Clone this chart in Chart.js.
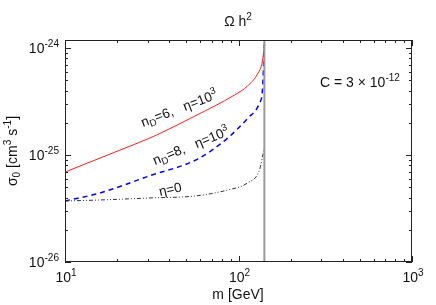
<!DOCTYPE html>
<html>
<head>
<meta charset="utf-8">
<script src="https://cdn.jsdelivr.net/npm/chart.js@4"></script>
<style>
  html, body { margin: 0; padding: 0; background: #fff; }
  #wrap { width: 436px; height: 305px; }
</style>
</head>
<body>
<div id="wrap"><canvas id="chart" width="436" height="305"></canvas></div>
<script>
// values
const redM = [10, 15.9, 27, 33.8, 55.9, 72.8, 94.8, 112.7, 128.5, 137.4, 141];
const redS = [6.93e-26, 9.37e-26, 1.32e-25, 1.54e-25, 2.31e-25, 2.87e-25, 3.64e-25, 4.42e-25, 5.71e-25, 7.57e-25, 1.07e-24];
const blueM = [10, 15.9, 30.8, 58.1, 86.5, 112.7, 132.1, 137.4, 141];
const blueS = [3.72e-26, 4.42e-26, 6.4e-26, 9.17e-26, 1.44e-25, 2.2e-25, 3.06e-25, 4.05e-25, 1.1e-24];
const blackM = [10, 15.9, 30.8, 55.9, 86.5, 112.7, 132.1, 137.4, 141];
const blackS = [3.72e-26, 3.8e-26, 3.97e-26, 4.14e-26, 4.71e-26, 5.48e-26, 7.24e-26, 9.57e-26, 1.19e-25];
const vlineM = [141, 141];
const vlineS = [1e-26, 1.19e-24];

const xMajor = [10, 100, 1000];
const xMajorExp = ['1', '2', '3'];
const yMajor = [1e-26, 1e-25, 1e-24];
const yMajorExp = ['-26', '-25', '-24'];

const FONT = "'Liberation Sans', Arial, sans-serif";
const FS = 14;

function pts(xs, ys) {
    return xs.map((x, i) => ({ x: x, y: ys[i] }));
}

// draw text made of pieces, some raised or lowered
function rich(ctx, parts, x, y, size) {
    let cx = x;
    ctx.textBaseline = 'alphabetic';
    ctx.textAlign = 'left';
    parts.forEach(p => {
        let s = size, dy = 0;
        if (p.sup) { s = size * 0.72; dy = -size * 0.42; }
        if (p.sub) { s = size * 0.72; dy = size * 0.22; }
        ctx.font = s + 'px ' + FONT;
        ctx.fillText(p.t, cx, y + dy);
        cx += ctx.measureText(p.t).width;
    });
    return cx - x;
}
function richWidth(ctx, parts, size) {
    let w = 0;
    parts.forEach(p => {
        let s = (p.sup || p.sub) ? size * 0.72 : size;
        ctx.font = s + 'px ' + FONT;
        w += ctx.measureText(p.t).width;
    });
    return w;
}

const decor = {
    id: 'decor',
    afterDatasetsDraw(chart) {
        const ctx = chart.ctx;
        const a = chart.chartArea;
        const xs = chart.scales.x, ys = chart.scales.y;
        ctx.save();
        ctx.fillStyle = '#111';
        ctx.strokeStyle = '#222';
        ctx.lineWidth = 1;

        // ticks on all four sides, pointing inward
        ctx.beginPath();
        for (let d = 0; d < xMajor.length; d++) {
            for (let k = 1; k <= 9; k++) {
                const v = xMajor[d] * k;
                if (v > 1000) break;
                const px = Math.round(xs.getPixelForValue(v)) + 0.5;
                const len = k === 1 ? 6 : 3;
                ctx.moveTo(px, a.bottom); ctx.lineTo(px, a.bottom - len);
                ctx.moveTo(px, a.top); ctx.lineTo(px, a.top + len);
            }
        }
        for (let d = 0; d < yMajor.length; d++) {
            for (let k = 1; k <= 9; k++) {
                const v = yMajor[d] * k;
                if (v > ys.max) break;
                const py = Math.round(ys.getPixelForValue(v)) + 0.5;
                const len = k === 1 ? 6 : 3;
                ctx.moveTo(a.left, py); ctx.lineTo(a.left + len, py);
                ctx.moveTo(a.right, py); ctx.lineTo(a.right - len, py);
            }
        }
        ctx.stroke();
        ctx.strokeRect(a.left + 0.5, a.top + 0.5, a.right - a.left - 1, a.bottom - a.top - 1);

        // tick labels
        xMajor.forEach((v, i) => {
            const parts = [{ t: '10' }, { t: xMajorExp[i], sup: true }];
            const w = richWidth(ctx, parts, FS);
            const px = xs.getPixelForValue(v);
            rich(ctx, parts, px - w / 2 + 1, a.bottom + 20, FS);
        });
        yMajor.forEach((v, i) => {
            const parts = [{ t: '10' }, { t: yMajorExp[i], sup: true }];
            const w = richWidth(ctx, parts, FS);
            const py = ys.getPixelForValue(v);
            rich(ctx, parts, a.left - 6 - w, py + 5, FS);
        });

        // title and axis labels
        const tt = [{ t: 'Ω h' }, { t: '2', sup: true }];
        rich(ctx, tt, 238 - richWidth(ctx, tt, FS) / 2, 26, FS);
        ctx.font = FS + 'px ' + FONT;
        ctx.textAlign = 'center';
        ctx.fillText('m [GeV]', 238, 299);
        ctx.save();
        ctx.translate(17, 151);
        ctx.rotate(-Math.PI / 2);
        const yl = [{ t: 'σ' }, { t: '0', sub: true }, { t: ' [cm' }, { t: '3', sup: true }, { t: ' s' }, { t: '-1', sup: true }, { t: ']' }];
        rich(ctx, yl, -richWidth(ctx, yl, FS) / 2, 0, FS);
        ctx.restore();

        rich(ctx, [{ t: 'C = 3 × 10' }, { t: '-12', sup: true }], 320, 87, FS);

        // curve labels
        const lab = (parts, x, y, deg) => {
            ctx.save();
            ctx.translate(x, y);
            ctx.rotate(-deg * Math.PI / 180);
            rich(ctx, parts, 0, 0, 13.5);
            ctx.restore();
        };
        lab([{ t: 'n' }, { t: 'D', sub: true }, { t: '=6,   η=10' }, { t: '3', sup: true }], 143, 127, 21);
        lab([{ t: 'n' }, { t: 'D', sub: true }, { t: '=8,   η=10' }, { t: '3', sup: true }], 155, 165, 22);
        lab([{ t: 'η=0' }], 160, 196, 12);
        ctx.restore();
    }
};

new Chart(document.getElementById('chart').getContext('2d'), {
    type: 'line',
    data: {
        datasets: [
            {
                data: pts(vlineM, vlineS),
                borderColor: '#9a9a9a',
                borderWidth: 2,
                tension: 0
            },
            {
                data: pts(blackM, blackS),
                borderColor: '#333',
                borderWidth: 1,
                borderDash: [4, 2, 1, 2, 1, 2],
                cubicInterpolationMode: 'monotone'
            },
            {
                data: pts(blueM, blueS),
                borderColor: 'rgb(0, 0, 255)',
                borderWidth: 1.5,
                borderDash: [5, 4],
                cubicInterpolationMode: 'monotone'
            },
            {
                data: pts(redM, redS),
                borderColor: 'rgb(255, 30, 30)',
                borderWidth: 1,
                cubicInterpolationMode: 'monotone'
            }
        ]
    },
    options: {
        responsive: false,
        animation: false,
        events: [],
        layout: { padding: { left: 0, right: 24, top: 40, bottom: 0 } },
        elements: { point: { radius: 0 } },
        plugins: { legend: { display: false }, tooltip: { enabled: false } },
        scales: {
            x: {
                type: 'logarithmic',
                min: 10,
                max: 1000,
                ticks: { display: false },
                grid: { display: false },
                border: { display: false },
                afterFit: s => { s.height = 43; }
            },
            y: {
                type: 'logarithmic',
                min: 1e-26,
                max: 1.19e-24,
                ticks: { display: false },
                grid: { display: false },
                border: { display: false },
                afterFit: s => { s.width = 65; }
            }
        }
    },
    plugins: [decor]
});
</script>
</body>
</html>
